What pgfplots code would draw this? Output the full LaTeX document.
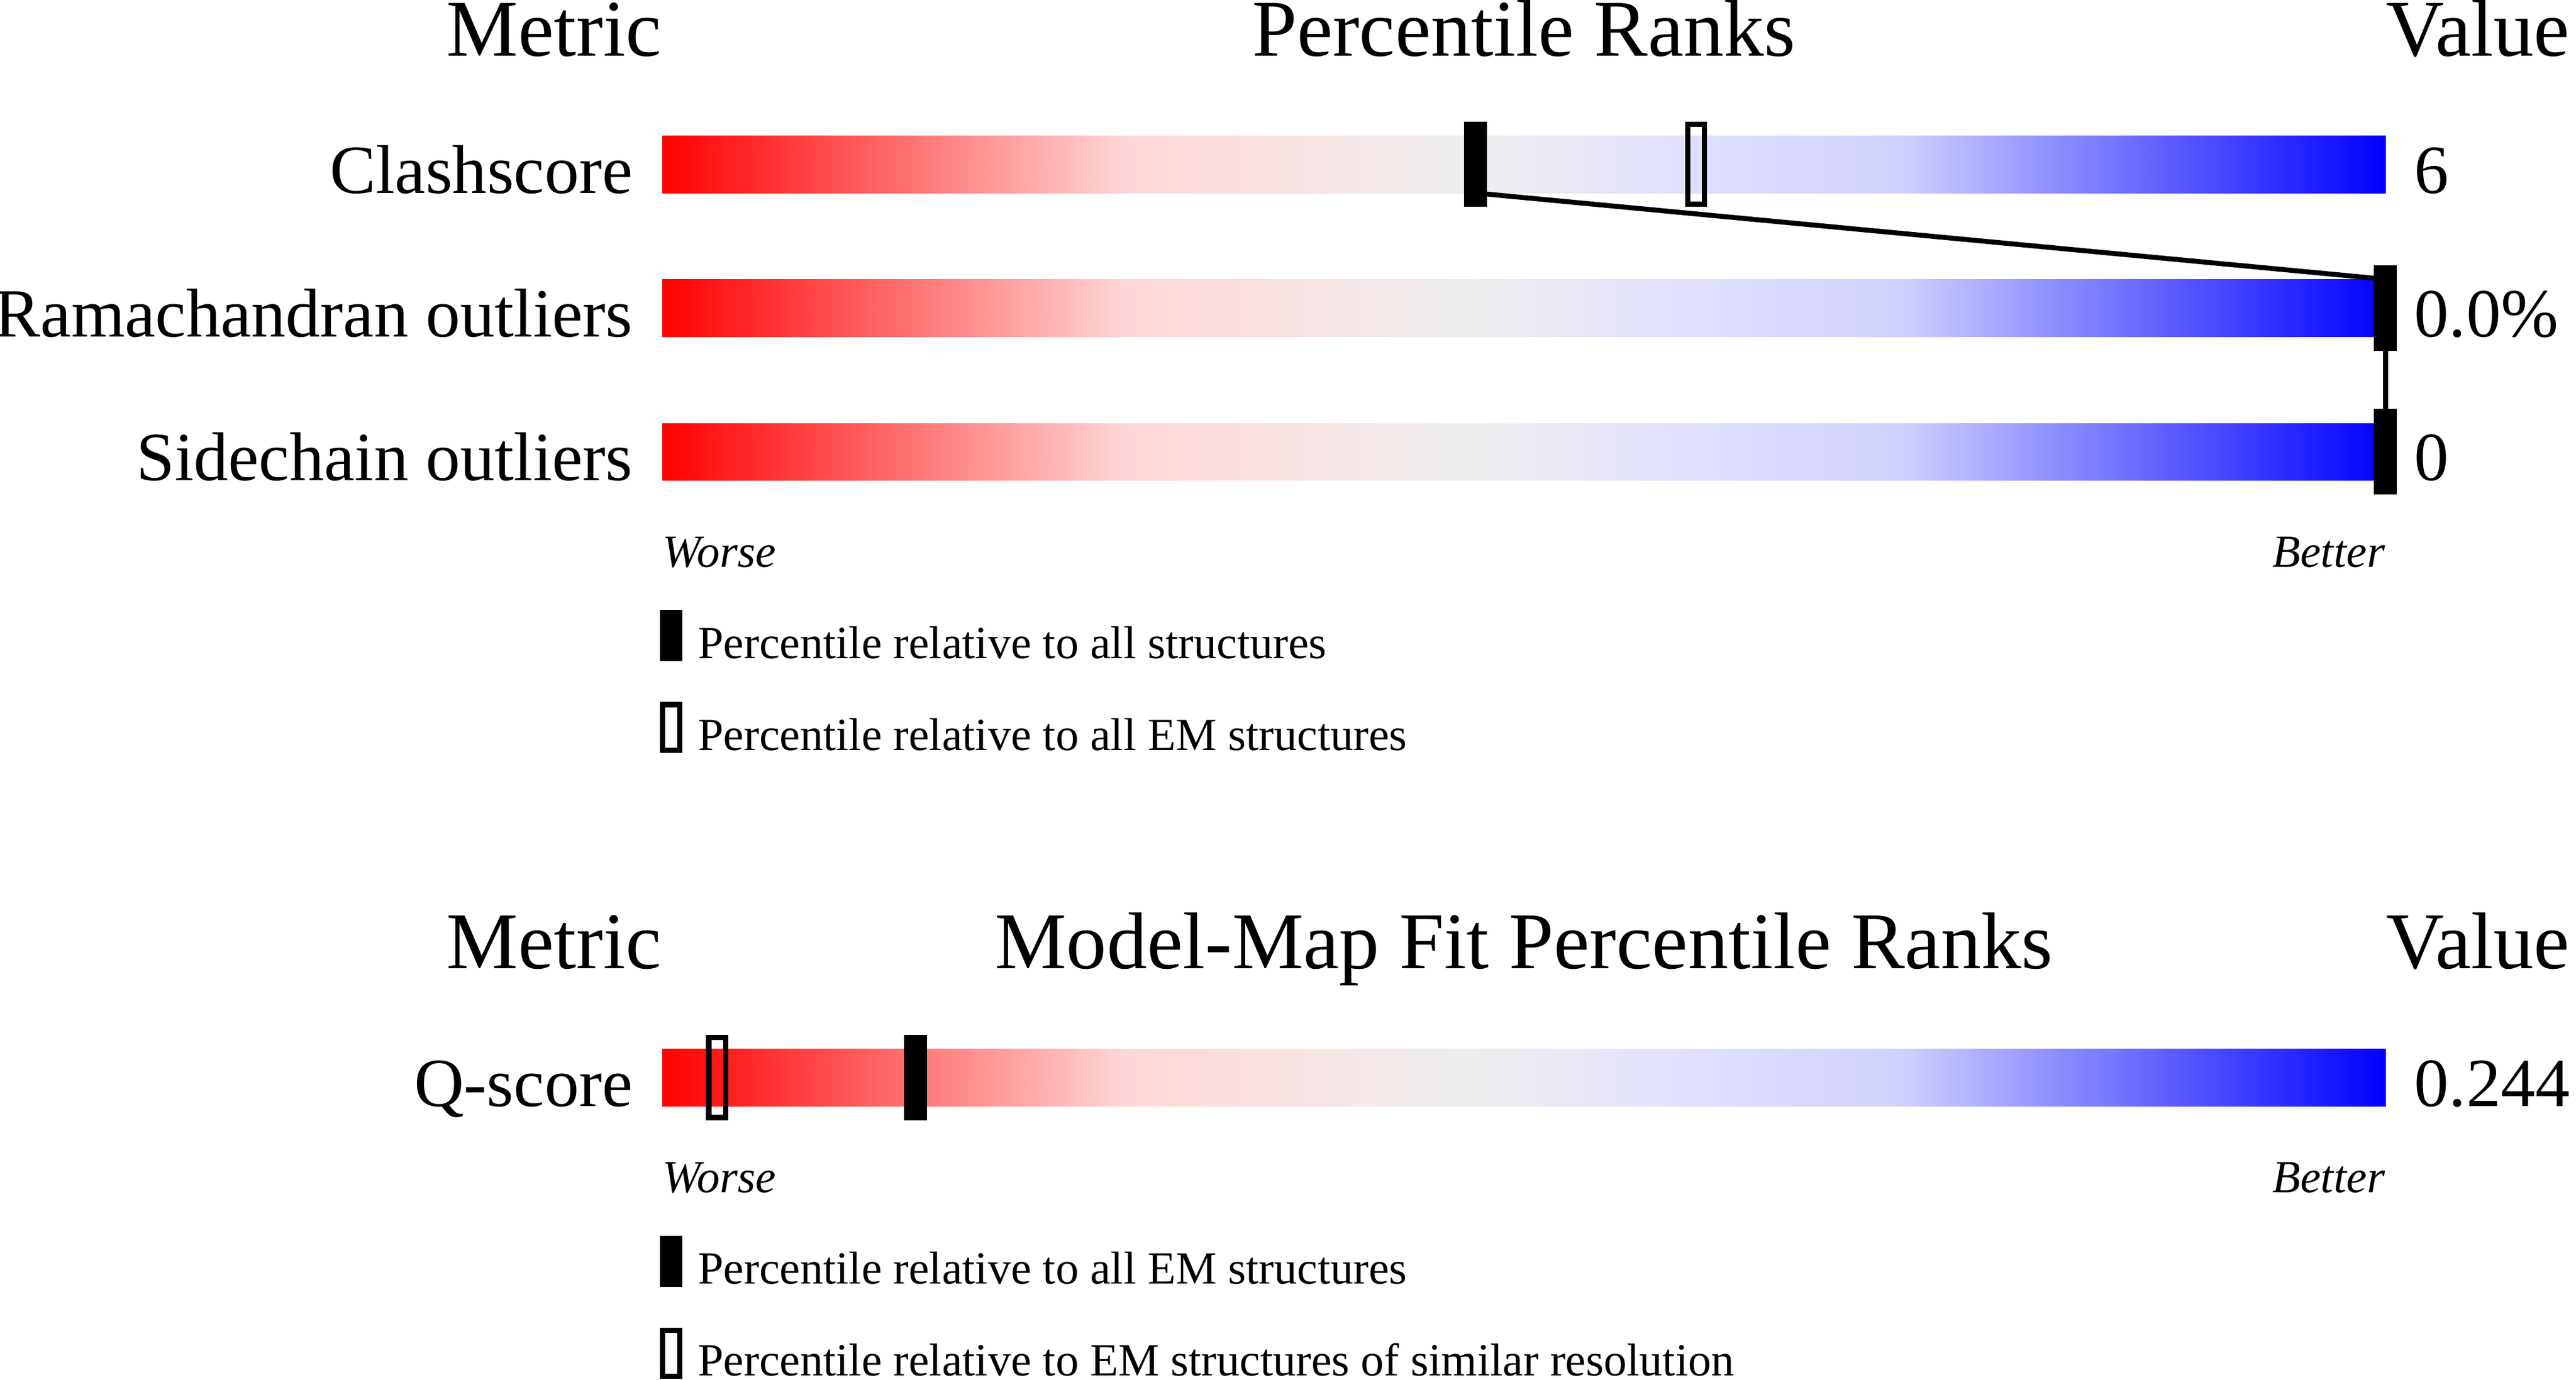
\documentclass[border=0pt]{standalone}
\usepackage{pgfplots}
\pgfplotsset{compat=1.18}
\usepackage{pgfplotstable}
\usepackage{fontspec}
\setmainfont{Liberation Serif}

% 1 px of the 1568x840 layout = 0.5pt
\newcommand\fh{\fontsize{24.5pt}{28pt}\selectfont}
\newcommand\fr{\fontsize{21pt}{25pt}\selectfont}
\newcommand\fs{\fontsize{14pt}{17pt}\selectfont}

\pgfdeclareplotmark{pfull}{%
  \pgfpathrectangle{\pgfpoint{-3.5pt}{-13pt}}{\pgfpoint{7pt}{26pt}}\pgfusepathqfill}
\pgfdeclareplotmark{pempty}{%
  \pgfsetlinewidth{1.65pt}\pgfsetmiterjoin
  \pgfpathrectangle{\pgfpoint{-2.575pt}{-12.175pt}}{\pgfpoint{5.15pt}{24.35pt}}\pgfusepathqstroke}
\pgfdeclareplotmark{lfull}{%
  \pgfpathrectangle{\pgfpoint{-3.45pt}{-7.8pt}}{\pgfpoint{6.9pt}{15.6pt}}\pgfusepathqfill}
\pgfdeclareplotmark{lempty}{%
  \pgfsetlinewidth{1.65pt}\pgfsetmiterjoin
  \pgfpathrectangle{\pgfpoint{-2.625pt}{-6.975pt}}{\pgfpoint{5.25pt}{13.95pt}}\pgfusepathqstroke}

\pgfplotsset{colormap={wwpdb}{rgb255(0cm)=(255,0,0) rgb255(27cm)=(255,215,215)
  rgb255(47cm)=(238,238,238) rgb255(62cm)=(221,221,255) rgb255(72cm)=(208,208,255)
  rgb255(100cm)=(0,0,255)}}

% one slider bar, as triangles, y from 0 (top) to 1 (bottom)
\pgfplotstableread{
x y
0 0
27 0
27 1
0 0
27 1
0 1
27 0
47 0
47 1
27 0
47 1
27 1
47 0
62 0
62 1
47 0
62 1
47 1
62 0
72 0
72 1
62 0
72 1
62 1
72 0
100 0
100 1
72 0
100 1
72 1
}\gradbar

\begin{document}
\begin{tikzpicture}
\begin{axis}[
    width=784pt, height=420pt, scale only axis,
    xmin=-38.417, xmax=111.058,
    ymin=0, ymax=840, y dir=reverse,
    hide axis, clip=false,
    colormap name=wwpdb,
    point meta min=0, point meta max=100,
]
% gradient bars
\addplot[patch, shader=interp, point meta=\thisrow{x}] table[y expr=82.5+35*\thisrow{y}] {\gradbar};
\addplot[patch, shader=interp, point meta=\thisrow{x}] table[y expr=170+35*\thisrow{y}] {\gradbar};
\addplot[patch, shader=interp, point meta=\thisrow{x}] table[y expr=257.5+35*\thisrow{y}] {\gradbar};
\addplot[patch, shader=interp, point meta=\thisrow{x}] table[y expr=638.5+35*\thisrow{y}] {\gradbar};

% links between the percentiles relative to all structures
\addplot[black, line width=1.5pt] coordinates {(47.2,117.5) (100,170)};
\addplot[black, line width=1.5pt] coordinates {(100,205) (100,257.5)};

% markers
\addplot[only marks, mark=pfull, black, fill=black] coordinates {(47.2,100) (100,187.5) (100,275)};
\addplot[only marks, mark=pempty, black] coordinates {(60.0,100)};
\addplot[only marks, mark=pfull, black, fill=black] coordinates {(14.7,656)};
\addplot[only marks, mark=pempty, black] coordinates {(3.2,656)};

% legend marks
\addplot[only marks, mark=lfull, black, fill=black] coordinates {(0.52,386.9) (0.52,767.8)};
\addplot[only marks, mark=lempty, black] coordinates {(0.52,442.9) (0.52,823.8)};

% headers
\node[anchor=base east, inner sep=0] at (axis cs:0,34) {\fh Metric};
\node[anchor=base, inner sep=0] at (axis cs:50,34) {\fh Percentile Ranks};
\node[anchor=base west, inner sep=0] at (axis cs:100,34) {\fh Value};
\node[anchor=base east, inner sep=0] at (axis cs:0,589.6) {\fh Metric};
\node[anchor=base, inner sep=0] at (axis cs:50,589.6) {\fh Model-Map Fit Percentile Ranks};
\node[anchor=base west, inner sep=0] at (axis cs:100,589.6) {\fh Value};

% metric names and values
\node[anchor=base east, inner sep=0] at (axis cs:-1.67,117.6) {\fr Clashscore};
\node[anchor=base east, inner sep=0] at (axis cs:-1.67,205.1) {\fr Ramachandran outliers};
\node[anchor=base east, inner sep=0] at (axis cs:-1.67,292.6) {\fr Sidechain outliers};
\node[anchor=base east, inner sep=0] at (axis cs:-1.67,673.5) {\fr Q-score};
\node[anchor=base west, inner sep=0] at (axis cs:101.65,117.6) {\fr 6};
\node[anchor=base west, inner sep=0] at (axis cs:101.65,205.1) {\fr 0.0\%};
\node[anchor=base west, inner sep=0] at (axis cs:101.65,292.6) {\fr 0};
\node[anchor=base west, inner sep=0] at (axis cs:101.65,673.5) {\fr 0.244};

% worse / better
\node[anchor=base west, inner sep=0] at (axis cs:0,345.2) {\fs\itshape Worse};
\node[anchor=base east, inner sep=0] at (axis cs:100,345.2) {\fs\itshape Better};
\node[anchor=base west, inner sep=0] at (axis cs:0,726.1) {\fs\itshape Worse};
\node[anchor=base east, inner sep=0] at (axis cs:100,726.1) {\fs\itshape Better};

% legend texts
\node[anchor=base west, inner sep=0] at (axis cs:2.05,400.7) {\fs Percentile relative to all structures};
\node[anchor=base west, inner sep=0] at (axis cs:2.05,456.6) {\fs Percentile relative to all EM structures};
\node[anchor=base west, inner sep=0] at (axis cs:2.05,781.6) {\fs Percentile relative to all EM structures};
\node[anchor=base west, inner sep=0] at (axis cs:2.05,837.5) {\fs Percentile relative to EM structures of similar resolution};
\end{axis}
\pgfresetboundingbox
\path (current axis.south west) rectangle (current axis.north east);
\end{tikzpicture}
\end{document}
